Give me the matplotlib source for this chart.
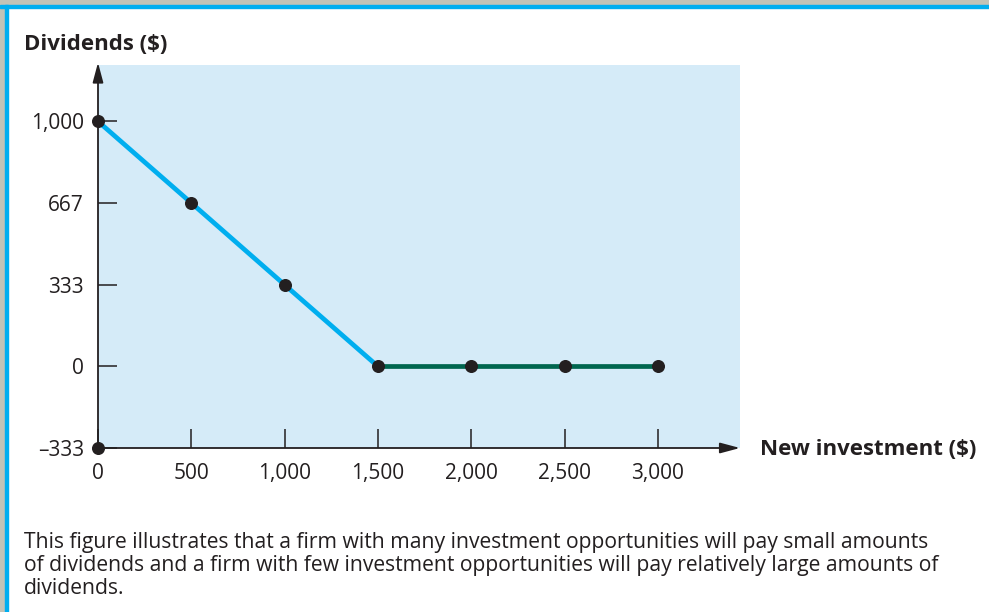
import matplotlib
matplotlib.use("Agg")
import matplotlib.pyplot as plt
from matplotlib.patches import Rectangle

plt.rcParams['font.family'] = ['Open Sans', 'DejaVu Sans']

# investimento novo x dividendos
investimento = [0, 500, 1000, 1500, 2000, 2500, 3000]
dividendos = [1000, 667, 333, 0, 0, 0, 0]
x_ticks = [0, 500, 1000, 1500, 2000, 2500, 3000]
x_labels = ['0', '500', '1,000', '1,500', '2,000', '2,500', '3,000']
y_ticks = [-333, 0, 333, 667, 1000]
y_labels = ['\u2013333', '0', '333', '667', '1,000']

azul = '#00aeef'
verde = '#00664f'
fundo = '#d5ebf8'
preto = '#231f20'

fig = plt.figure(figsize=(9.89, 6.12), dpi=100)
W, H = 989, 612

# moldura: faixa cinza e linha azul no topo e na esquerda
fig.patches.append(Rectangle((0, 1 - 5 / H), 1, 5 / H, transform=fig.transFigure,
                             color='#c2c3b6', zorder=0))
fig.patches.append(Rectangle((0, 0), 5 / W, 1, transform=fig.transFigure,
                             color='#c2c3b6', zorder=0))
fig.patches.append(Rectangle((0, 1 - 8 / H), 1, 3 / H, transform=fig.transFigure,
                             color=azul, zorder=1))
fig.patches.append(Rectangle((5 / W, 0), 3 / W, 1 - 5 / H, transform=fig.transFigure,
                             color=azul, zorder=1))

ax = fig.add_axes([98 / W, (H - 448) / H, (740 - 98) / W, (448 - 65) / H])
ax.set_facecolor(fundo)
ax.set_xlim(0, 3440)
ax.set_ylim(-333, 1230)
for s in ax.spines.values():
    s.set_visible(False)

# eixos com seta
seta = dict(arrowstyle='-|>,head_length=1.2,head_width=0.32',
            color=preto, lw=1.3, shrinkA=0, shrinkB=0)
ax.annotate('', xy=(3440, -333), xytext=(0, -333), arrowprops=seta,
            annotation_clip=False)
ax.annotate('', xy=(0, 1240), xytext=(0, -333), arrowprops=seta,
            annotation_clip=False)

ax.set_xticks(x_ticks, x_labels)
ax.set_yticks(y_ticks, y_labels)
ax.tick_params(axis='both', direction='in', length=14, width=1.1, color=preto,
               labelsize=15, labelcolor=preto)
ax.tick_params(axis='x', pad=11)
ax.tick_params(axis='y', pad=10)

ax.plot(investimento[:4], dividendos[:4], color=azul, lw=3.4, solid_capstyle='butt', zorder=3)
ax.plot(investimento[3:], dividendos[3:], color=verde, lw=3.4, solid_capstyle='butt', zorder=3)
ax.scatter(investimento, dividendos, s=70, color=preto, zorder=5, clip_on=False)
ax.scatter([0], [-333], s=70, color=preto, zorder=5, clip_on=False)

fig.text(24 / W, 1 - 50 / H, 'Dividends ($)', fontsize=16, fontweight='bold',
         color=preto, va='baseline', ha='left')
fig.text(760 / W, 1 - 455 / H, 'New investment ($)', fontsize=16, fontweight='bold',
         color=preto, va='baseline', ha='left')

legenda = ['This figure illustrates that a firm with many investment opportunities will pay small amounts',
           'of dividends and a firm with few investment opportunities will pay relatively large amounts of',
           'dividends.']
for i, linha in enumerate(legenda):
    fig.text(24 / W, 1 - (548 + 23 * i) / H, linha, fontsize=15.25, color=preto,
             va='baseline', ha='left')

fig.savefig('out.png', dpi=100)
